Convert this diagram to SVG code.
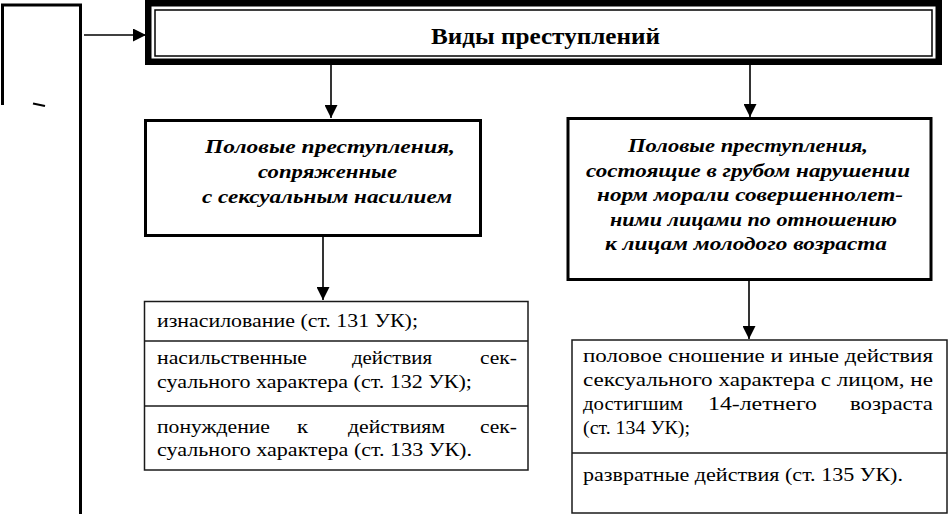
<svg xmlns="http://www.w3.org/2000/svg" width="948" height="514" viewBox="0 0 948 514">
<style>
  .bg { fill: #ffffff; }
  .frame { fill: none; stroke: #000; stroke-width: 3; }
  .thick { fill: #fff; stroke: #000; stroke-width: 6.5; }
  .thin { fill: none; stroke: #000; stroke-width: 1.5; }
  .box { fill: #fff; stroke: #000; stroke-width: 3; }
  .list { fill: #fff; stroke: #1a1a1a; stroke-width: 1.5; }
  .div { stroke: #1a1a1a; stroke-width: 1.5; }
  .conn { fill: none; stroke: #000; stroke-width: 1.6; }
  .title { font-family: "Liberation Serif", "DejaVu Serif", serif; font-weight: bold; font-size: 24px; fill: #000; }
  .bi { font-family: "Liberation Serif", "DejaVu Serif", serif; font-weight: bold; font-style: italic; font-size: 19.5px; fill: #000; }
  .reg { font-family: "Liberation Serif", "DejaVu Serif", serif; font-size: 19.5px; fill: #000; }
</style>
<defs>
  <marker id="arr" markerUnits="userSpaceOnUse" markerWidth="13" markerHeight="13" viewBox="0 0 12 12" refX="12" refY="6" orient="auto">
    <path d="M0,0 L12,6 L0,12 Z" fill="#000"/>
  </marker>
</defs>
<rect class="bg" x="0" y="0" width="948" height="514"/>

<g id="left-frame">
  <path class="frame" d="M2.5,105 V5 H80.5 V514"/>
  <path d="M33,103.5 L45,106" stroke="#000" stroke-width="2.2"/>
</g>

<g id="connectors">
  <line class="conn" x1="84" y1="35" x2="146" y2="35" marker-end="url(#arr)"/>
  <line class="conn" x1="331" y1="65" x2="331" y2="118" marker-end="url(#arr)"/>
  <line class="conn" x1="750" y1="65" x2="750" y2="117" marker-end="url(#arr)"/>
  <line class="conn" x1="323" y1="237" x2="323" y2="300" marker-end="url(#arr)"/>
  <line class="conn" x1="749" y1="281" x2="749" y2="339" marker-end="url(#arr)"/>
</g>

<g id="title">
  <rect class="thick" x="148.25" y="3.25" width="790.5" height="58.5"/>
  <rect class="thin" x="155" y="10" width="777" height="46"/>
  <text class="title" x="431" y="44" textLength="229" lengthAdjust="spacingAndGlyphs">Виды преступлений</text>
</g>

<g id="box-a">
  <rect class="box" x="145.5" y="120.5" width="335" height="115"/>
  <text class="bi" x="205" y="153" textLength="250" lengthAdjust="spacingAndGlyphs">Половые преступления,</text>
  <text class="bi" x="258" y="178" textLength="139" lengthAdjust="spacingAndGlyphs">сопряженные</text>
  <text class="bi" x="202" y="203" textLength="250" lengthAdjust="spacingAndGlyphs">с сексуальным насилием</text>
</g>

<g id="box-b">
  <rect class="box" x="568" y="118.5" width="363" height="161"/>
  <text class="bi" x="628" y="152" textLength="240" lengthAdjust="spacingAndGlyphs">Половые преступления,</text>
  <text class="bi" x="586" y="176.5" textLength="324" lengthAdjust="spacingAndGlyphs">состоящие в грубом нарушении</text>
  <text class="bi" x="597" y="201" textLength="306" lengthAdjust="spacingAndGlyphs">норм морали совершеннолет-</text>
  <text class="bi" x="610" y="225.5" textLength="287" lengthAdjust="spacingAndGlyphs">ними лицами по отношению</text>
  <text class="bi" x="605" y="250" textLength="282" lengthAdjust="spacingAndGlyphs">к лицам молодого возраста</text>
</g>

<g id="list-a">
  <rect class="list" x="144.5" y="301.5" width="383.5" height="168.5"/>
  <line class="div" x1="144.5" y1="341" x2="528" y2="341"/>
  <line class="div" x1="144.5" y1="406" x2="528" y2="406"/>
  <text class="reg" x="157" y="327" textLength="261" lengthAdjust="spacingAndGlyphs">изнасилование (ст. 131 УК);</text>
  <text class="reg" y="364"><tspan x="157" textLength="150" lengthAdjust="spacingAndGlyphs">насильственные</tspan><tspan x="352" textLength="80" lengthAdjust="spacingAndGlyphs">действия</tspan><tspan x="480" textLength="37" lengthAdjust="spacingAndGlyphs">сек-</tspan></text>
  <text class="reg" x="157" y="388" textLength="315" lengthAdjust="spacingAndGlyphs">суального характера (ст. 132 УК);</text>
  <text class="reg" y="433"><tspan x="157" textLength="113" lengthAdjust="spacingAndGlyphs">понуждение</tspan><tspan x="297" textLength="11" lengthAdjust="spacingAndGlyphs">к</tspan><tspan x="348" textLength="97" lengthAdjust="spacingAndGlyphs">действиям</tspan><tspan x="480" textLength="37" lengthAdjust="spacingAndGlyphs">сек-</tspan></text>
  <text class="reg" x="157" y="456" textLength="315" lengthAdjust="spacingAndGlyphs">суального характера (ст. 133 УК).</text>
</g>

<g id="list-b">
  <rect class="list" x="572" y="340" width="375" height="173"/>
  <line class="div" x1="572" y1="453" x2="947" y2="453"/>
  <text class="reg" x="583" y="362" textLength="350" lengthAdjust="spacingAndGlyphs">половое сношение и иные действия</text>
  <text class="reg" x="583" y="386" textLength="350" lengthAdjust="spacingAndGlyphs">сексуального характера с лицом, не</text>
  <text class="reg" y="410"><tspan x="583" textLength="100" lengthAdjust="spacingAndGlyphs">достигшим</tspan><tspan x="708" textLength="109" lengthAdjust="spacingAndGlyphs">14-летнего</tspan><tspan x="850" textLength="83" lengthAdjust="spacingAndGlyphs">возраста</tspan></text>
  <text class="reg" x="583" y="434" textLength="107" lengthAdjust="spacingAndGlyphs">(ст. 134 УК);</text>
  <text class="reg" x="583" y="481" textLength="320" lengthAdjust="spacingAndGlyphs">развратные действия (ст. 135 УК).</text>
</g>
</svg>
